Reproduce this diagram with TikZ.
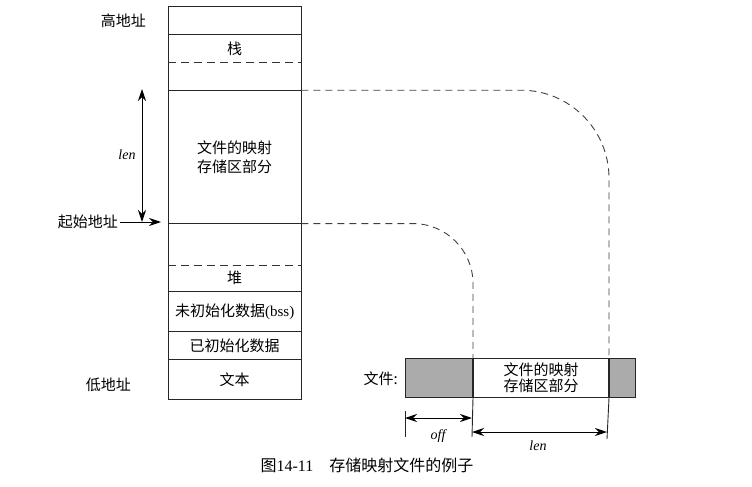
\documentclass[tikz,border=0pt]{standalone}
\usepackage{fontspec}
\setmainfont{Liberation Serif}
\newfontfamily\cjk{Noto Sans CJK SC}
\usetikzlibrary{arrows.meta}
\begin{document}
\begin{tikzpicture}[x=1pt,y=-1pt,
  zh/.style={font=\cjk\fontsize{15}{16}\selectfont, align=center, inner sep=0pt},
  cell/.style={zh, minimum width=133pt, anchor=north west},
  lbl/.style={zh, anchor=east},
  mem/.style={line width=1pt, draw=black!85},
  sep/.style={line width=0.9pt, draw=black!85},
  dsep/.style={line width=0.9pt, draw=black!80, dash pattern=on 8pt off 5pt},
  dline/.style={line width=0.9pt, draw=black!75, dash pattern=on 7pt off 5pt},
  arr/.style={line width=1pt, -{Stealth[length=12pt,width=8pt]}},
  darr/.style={line width=1pt, {Stealth[length=12pt,width=8pt]}-{Stealth[length=12pt,width=8pt]}},
  fbox/.style={draw=black!85, line width=1pt, anchor=north west, minimum height=39pt, inner sep=0pt},
  it/.style={font=\itshape\fontsize{14}{16}\selectfont, inner sep=0pt}
]
\path[use as bounding box] (0,0) rectangle (752,487);

% memory column
\node[cell, minimum height=27pt] (hi) at (168,7) {};
\node[cell, minimum height=28pt] (stack) at (hi.south west) {栈};
\node[cell, minimum height=27pt] (gapA) at (stack.south west) {};
\node[cell, minimum height=133pt] (map) at (gapA.south west) {文件的映射\\[3pt]存储区部分};
\node[cell, minimum height=41pt] (gapB) at (map.south west) {};
\node[cell, minimum height=26pt] (heap) at (gapB.south west) {堆};
\node[cell, minimum height=40pt] (bss) at (heap.south west) {未初始化数据{\rmfamily(bss)}};
\node[cell, minimum height=27pt] (data) at (bss.south west) {已初始化数据};
\node[cell, minimum height=40pt] (text) at (data.south west) {文本};

\draw[mem] (hi.north west) rectangle (text.south east);
\draw[sep] (hi.south west) -- (hi.south east);
\draw[dsep] (stack.south west) -- (stack.south east);
\draw[sep] (gapA.south west) -- (gapA.south east);
\draw[sep] (map.south west) -- (map.south east);
\draw[dsep] (gapB.south west) -- (gapB.south east);
\draw[sep] (heap.south west) -- (heap.south east);
\draw[sep] (bss.south west) -- (bss.south east);
\draw[sep] (data.south west) -- (data.south east);

% left labels
\node[lbl] (hiaddr) at (146,21) {高地址};
\node[lbl] (start) at (118,222) {起始地址};
\node[lbl] (loaddr) at (131,385) {低地址};
\coordinate (startTip) at (161,222);
\draw[arr] (start.east) ++(2,0) -- (startTip);
\coordinate (lenTop) at (142,89);
\coordinate (lenBot) at (142,222);
\draw[darr] (lenTop) -- (lenBot);
\node[it] (lenL) at (127,155) {len};

% file bar
\node[fbox, fill=black!33, minimum width=67pt] (foff) at (405,358) {};
\node[fbox, minimum width=135pt, zh, anchor=north west] (fmap) at (foff.north east) {文件的映射\\存储区部分};
\node[fbox, fill=black!33, minimum width=26pt] (ftail) at (fmap.north east) {};
\node[lbl] (flabel) at (398,379) {文件:};

% dashed mapping curves
\draw[dline, rounded corners=88pt] (map.north east) -| (fmap.north east);
\draw[dline, rounded corners=60pt] (map.south east) -| (fmap.north west);

% dimension lines
\coordinate (t1a) at (405,411);
\coordinate (t1b) at (405,437);
\coordinate (t2b) at (472,437);
\coordinate (t3b) at (607,439);
\draw[sep] (t1a) -- (t1b);
\draw[sep] (fmap.south west) -- (t2b);
\draw[sep] (fmap.south east) -- (t3b);
\coordinate (offL) at (405,418);
\coordinate (offR) at (472,418);
\coordinate (lenL2) at (472,432);
\coordinate (lenR2) at (607,432);
\draw[darr] (offL) -- (offR);
\draw[darr] (lenL2) -- (lenR2);
\node[it] (offlab) at (438,436) {off};
\node[it] (lenlab) at (538,446) {len};

% caption
\node[font=\cjk\fontsize{16}{18}\selectfont, inner sep=0pt] (cap) at (367,465) {图{\rmfamily 14-11}\quad 存储映射文件的例子};
\end{tikzpicture}
\end{document}
